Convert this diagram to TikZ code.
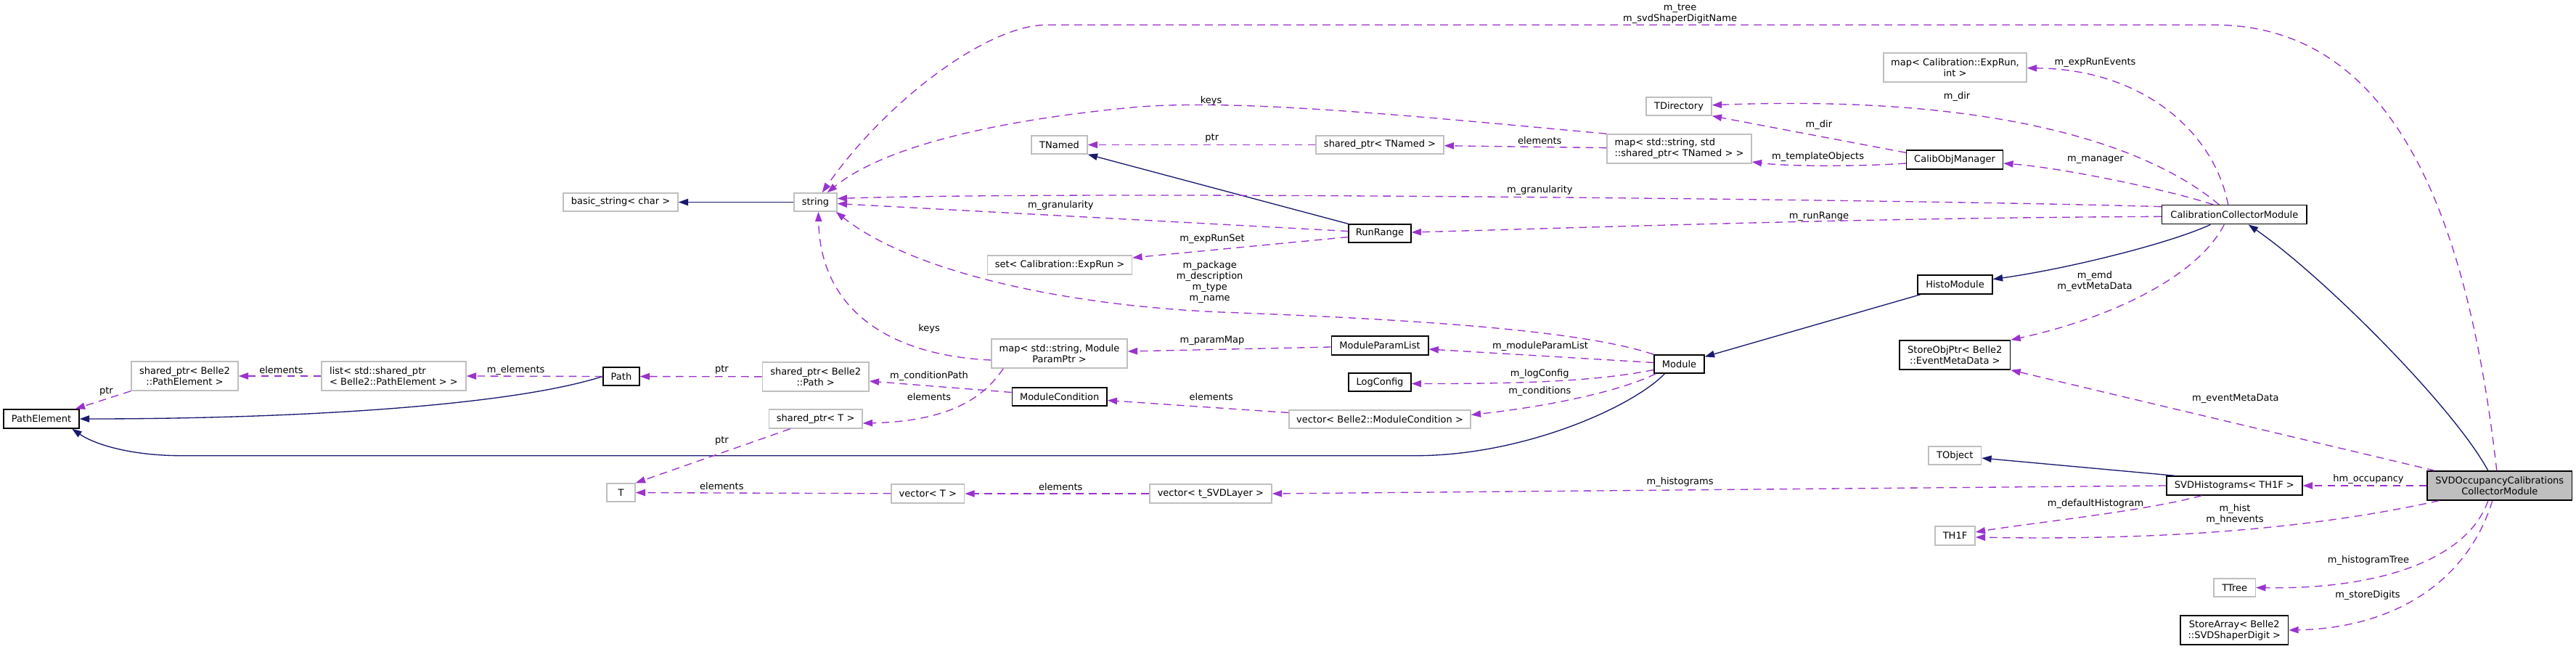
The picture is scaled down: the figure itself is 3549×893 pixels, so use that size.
\documentclass[tikz,border=0pt]{standalone}
\usepackage{fontspec}
\setmainfont{DejaVu Sans}
\usetikzlibrary{arrows.meta,calc}
\definecolor{usecol}{HTML}{9A32CD}
\definecolor{inhcol}{HTML}{191970}
\definecolor{boxgray}{HTML}{BFBFBF}
\newcommand{\dfs}{\fontsize{9.75pt}{11.25pt}\selectfont}
\begin{document}
\begin{tikzpicture}[x=0.75pt,y=-0.75pt,
  sz/.style 2 args={minimum width=#1*0.75pt, minimum height=#2*0.75pt},
  boxbase/.style={line width=1.1pt, fill=white, inner sep=0pt, font=\dfs, align=center},
  cls/.style={boxbase, draw=black},
  ext/.style={boxbase, draw=boxgray},
  mainbox/.style={boxbase, draw=black, fill=boxgray},
  lbl/.style={inner sep=0pt, font=\dfs, align=center},
  usearr/.style={draw=usecol, line width=1pt, dash pattern=on 8pt off 5.5pt, -{Triangle[length=10pt,width=7pt]}},
  inh/.style={draw=inhcol, line width=1pt, -{Triangle[length=10pt,width=7pt]}}]
\fill[white] (0,0) rectangle (3549,893);
\useasboundingbox (0,0) rectangle (3549,893);

% nodes
\node[cls, sz={104}{26}] (PathElement) at (57,577) {PathElement};
\node[ext, sz={147}{40}] (spPE) at (254.5,518) {shared\_ptr< Belle2\\::PathElement >};
\node[ext, sz={199}{40}, align=left] (listSP) at (542.5,518) {list< std::shared\_ptr\\< Belle2::PathElement > >};
\node[cls, sz={50}{25}] (Path) at (856,518.5) {Path};
\node[ext, sz={158}{25}] (basicstr) at (855,278.5) {basic\_string< char >};
\node[ext, sz={59}{25}] (string) at (1123.5,278.5) {string};
\node[ext, sz={77}{25}] (TNamed) at (1459.5,199.5) {TNamed};
\node[ext, sz={199}{26}] (setER) at (1460,365) {set< Calibration::ExpRun >};
\node[cls, sz={86}{25}] (RunRange) at (1901,321.5) {RunRange};
\node[ext, sz={176}{25}] (spTN) at (1901,199.5) {shared\_ptr< TNamed >};
\node[ext, sz={199}{40}, align=left] (mapTN) at (2313.5,205) {map< std::string, std\\::shared\_ptr< TNamed > >};
\node[ext, sz={90}{25}] (TDir) at (2313,146.5) {TDirectory};
\node[ext, sz={197}{40}] (mapER) at (2693.5,93) {map< Calibration::ExpRun,\\int >};
\node[cls, sz={133}{26}] (COM) at (2693,220) {CalibObjManager};
\node[cls, sz={199.4}{26}] (CCM) at (3078.3,295.7) {CalibrationCollectorModule};
\node[cls, sz={103}{26}] (Histo) at (2693.5,392) {HistoModule};
\node[cls, sz={152.6}{40}] (SOP) at (2693.3,489) {StoreObjPtr< Belle2\\::EventMetaData >};
\node[ext, sz={72.5}{25}] (TObject) at (2693.3,627.5) {TObject};
\node[cls, sz={187}{26}] (SVDH) at (3078.4,669) {SVDHistograms< TH1F >};
\node[ext, sz={55}{26}] (TH1F) at (2693.5,738) {TH1F};
\node[ext, sz={57.4}{25}] (TTree) at (3078.7,809.5) {TTree};
\node[cls, sz={148.5}{40}] (SA) at (3078.3,868) {StoreArray< Belle2\\::SVDShaperDigit >};
\node[mainbox, sz={199.6}{40}] (SVDO) at (3443.8,669) {SVDOccupancyCalibrations\\CollectorModule};
\node[cls, sz={69}{25}] (Module) at (2313.5,501.5) {Module};
\node[cls, sz={133.5}{26}] (MPL) at (1901,476) {ModuleParamList};
\node[cls, sz={86}{25}] (LogConfig) at (1901,526.5) {LogConfig};
\node[ext, sz={250}{25}] (vecMC) at (1901,577.5) {vector< Belle2::ModuleCondition >};
\node[cls, sz={130.6}{25}] (MC) at (1459.7,546.5) {ModuleCondition};
\node[ext, sz={187}{40}] (mapMP) at (1459.5,487) {map< std::string, Module\\ParamPtr >};
\node[ext, sz={146.5}{40}] (spPath) at (1123.7,519) {shared\_ptr< Belle2\\::Path >};
\node[ext, sz={128.5}{26}] (spT) at (1123.7,577) {shared\_ptr< T >};
\node[ext, sz={39}{25}] (T) at (855.5,678.5) {T};
\node[ext, sz={100.6}{26}] (vecT) at (1278.3,680) {vector< T >};
\node[ext, sz={168.3}{26}] (vecL) at (1667.9,680) {vector< t\_SVDLayer >};

% inheritance
\draw[inh] (string) -- (basicstr);
\draw[inh] (RunRange.north west) -- (TNamed.south east);
\draw[inh] (Path.west) .. controls (700,560) and (400,577) .. (PathElement.east);
\draw[inh] ($(Module.south)+(-20,0)$) .. controls (2250,560) and (2100,627.7) .. (1950,627.7) -- (250,627.7) .. controls (180,627.7) and (130,612) .. (PathElement.-18);
\draw[inh] (Histo) -- (Module);
\draw[inh] ($(CCM.south)+(-33,0)$) .. controls (2990,335) and (2850,370) .. (Histo);
\draw[inh] ($(SVDO.north)+(-16,0)$) .. controls (3380,560) and (3200,380) .. ($(CCM.south)+(19.4,0)$);
\draw[inh] ($(SVDH.north west)+(12,0)$) -- ($(TObject.east)+(0,3.5)$);

% usage
\draw[usearr] (spPE.south west) -- ($(PathElement.north east)+(-6,0)$);
\draw[usearr] (listSP) -- (spPE);
\draw[usearr] (Path.west) -- (listSP.east);
\draw[usearr] (spPath) -- (Path);
\draw[usearr] ($(MC.west)+(0,-6)$) -- ($(spPath.east)+(0,6)$);
\draw[usearr] ($(mapMP.south west)+(17,0)$) .. controls (1360,540) and (1320,580) .. ($(spT.east)+(0,6)$);
\draw[usearr] ($(spT.south)+(-35,0)$) -- (T.north east);
\draw[usearr] (vecT) -- (T);
\draw[usearr] (vecL) -- (vecT);
\draw[usearr] (SVDH.west) -- (vecL.east);
\draw[usearr] ($(SVDO.north)+(-4,0)$) .. controls (3400,300) and (3300,34.3) .. (3050,34.3) -- (1442,34.3) .. controls (1360,34.3) and (1220,140) .. (string);
\draw[usearr] (mapTN.north west) .. controls (1950,160) and (1700,135) .. (1560,148) .. controls (1380,165) and (1220,200) .. (string);
\draw[usearr] ($(CCM.west)+(0,-11)$) .. controls (2700,276) and (1500,262) .. ($(string.east)+(0,-5)$);
\draw[usearr] ($(RunRange.west)+(0,-3)$) -- ($(string.east)+(0,2)$);
\draw[usearr] (Module.north west) .. controls (2180,455) and (1950,440) .. (1682.7,430) .. controls (1450,420) and (1250,370) .. ($(string.south east)+(-2,0)$);
\draw[usearr] ($(mapMP.west)+(0,9)$) .. controls (1230,490) and (1130,430) .. ($(string.south)+(4,0)$);
\draw[usearr] (spTN) -- (TNamed);
\draw[usearr] (mapTN) -- (spTN);
\draw[usearr] ($(COM.west)+(0,5)$) .. controls (2550,230) and (2460,229) .. ($(mapTN.east)+(0,18)$);
\draw[usearr] ($(COM.north west)+(0,4)$) -- (TDir.south east);
\draw[usearr] ($(CCM.north)+(-21,0)$) .. controls (2960,200) and (2750,130) .. (TDir);
\draw[usearr] ($(CCM.north)+(-8.6,0)$) .. controls (3050,180) and (2950,95) .. (mapER);
\draw[usearr] ($(CCM.north)+(-29,0)$) .. controls (3000,265) and (2850,232) .. ($(COM.east)+(0,5)$);
\draw[usearr] ($(CCM.west)+(0,2.6)$) .. controls (2600,300) and (2300,310) .. ($(RunRange.east)+(0,-1.5)$);
\draw[usearr] ($(CCM.south)+(-14,0)$) .. controls (3025,385) and (2900,440) .. (SOP.north east);
\draw[usearr] ($(SVDO.north west)+(11,0)$) -- (SOP.south east);
\draw[usearr] (SVDO) -- (SVDH);
\draw[usearr] ($(SVDH.south)+(-45,0)$) .. controls (2950,705) and (2800,720) .. ($(TH1F.east)+(0,-5)$);
\draw[usearr] ($(SVDO.south west)+(17,0)$) .. controls (3200,725) and (3000,745) .. ($(TH1F.east)+(0,2)$);
\draw[usearr] ($(SVDO.south)+(-16,0)$) .. controls (3400,770) and (3280,812) .. (TTree.east);
\draw[usearr] ($(SVDO.south)+(-10,0)$) .. controls (3400,800) and (3300,865) .. (SA.east);
\draw[usearr] ($(Module.west)+(0,-2)$) -- ($(MPL.east)+(0,5)$);
\draw[usearr] ($(MPL.west)+(0,2)$) -- ($(mapMP.east)+(0,-3)$);
\draw[usearr] ($(Module.west)+(0,8)$) .. controls (2200,525) and (2100,528.7) .. ($(LogConfig.east)+(0,2)$);
\draw[usearr] ($(Module.south west)+(3,0)$) .. controls (2230,540) and (2130,560) .. ($(vecMC.east)+(0,-6)$);
\draw[usearr] ($(vecMC.west)+(0,-9)$) -- ($(MC.east)+(0,5)$);
\draw[usearr] ($(RunRange.west)+(0,5)$) -- ($(setER.east)+(0,-10)$);

% labels
\node[lbl] (l1) at (146.4,539.3) {ptr};
\node[lbl] (l2) at (387.5,509.7) {elements};
\node[lbl] (l3) at (710.6,509.7) {m\_elements};
\node[lbl] (l4) at (994.4,509.7) {ptr};
\node[lbl] (l5) at (1280,517.7) {m\_conditionPath};
\node[lbl] (l6) at (1280,546.7) {elements};
\node[lbl] (l7) at (994.4,607.3) {ptr};
\node[lbl] (l8) at (994.4,669.7) {elements};
\node[lbl] (l9) at (1461.3,670.7) {elements};
\node[lbl] (l10) at (2314.6,664) {m\_histograms};
\node[lbl] (l11) at (2314.6,19.2) {m\_tree\\m\_svdShaperDigitName};
\node[lbl] (l12) at (1668.5,139) {keys};
\node[lbl] (l13) at (2121.3,261.7) {m\_granularity};
\node[lbl] (l14) at (1461.3,282.7) {m\_granularity};
\node[lbl] (l15) at (1666.7,388.7) {m\_package\\m\_description\\m\_type\\m\_name};
\node[lbl] (l16) at (1280,452.7) {keys};
\node[lbl] (l17) at (1669.8,190.7) {ptr};
\node[lbl] (l18) at (2121.3,193.3) {elements};
\node[lbl] (l19) at (2504.6,215.7) {m\_templateObjects};
\node[lbl] (l20) at (2505.9,171.7) {m\_dir};
\node[lbl] (l21) at (2696,133.3) {m\_dir};
\node[lbl] (l22) at (2886.5,86.7) {m\_expRunEvents};
\node[lbl] (l23) at (2887,220.7) {m\_manager};
\node[lbl] (l24) at (2505.9,298) {m\_runRange};
\node[lbl] (l25) at (2886,388) {m\_emd\\m\_evtMetaData};
\node[lbl] (l26) at (3079.9,549) {m\_eventMetaData};
\node[lbl] (l27) at (3263,659.7) {hm\_occupancy};
\node[lbl] (l28) at (2887,694.3) {m\_defaultHistogram};
\node[lbl] (l29) at (3079,708.2) {m\_hist\\m\_hnevents};
\node[lbl] (l30) at (3263,772.3) {m\_histogramTree};
\node[lbl] (l31) at (3262,819.7) {m\_storeDigits};
\node[lbl] (l32) at (2122,476.7) {m\_moduleParamList};
\node[lbl] (l33) at (1670,469.7) {m\_paramMap};
\node[lbl] (l34) at (2121.3,514.7) {m\_logConfig};
\node[lbl] (l35) at (2121.3,539.3) {m\_conditions};
\node[lbl] (l36) at (1668.7,546.7) {elements};
\node[lbl] (l37) at (1670,329) {m\_expRunSet};
\end{tikzpicture}
\end{document}
